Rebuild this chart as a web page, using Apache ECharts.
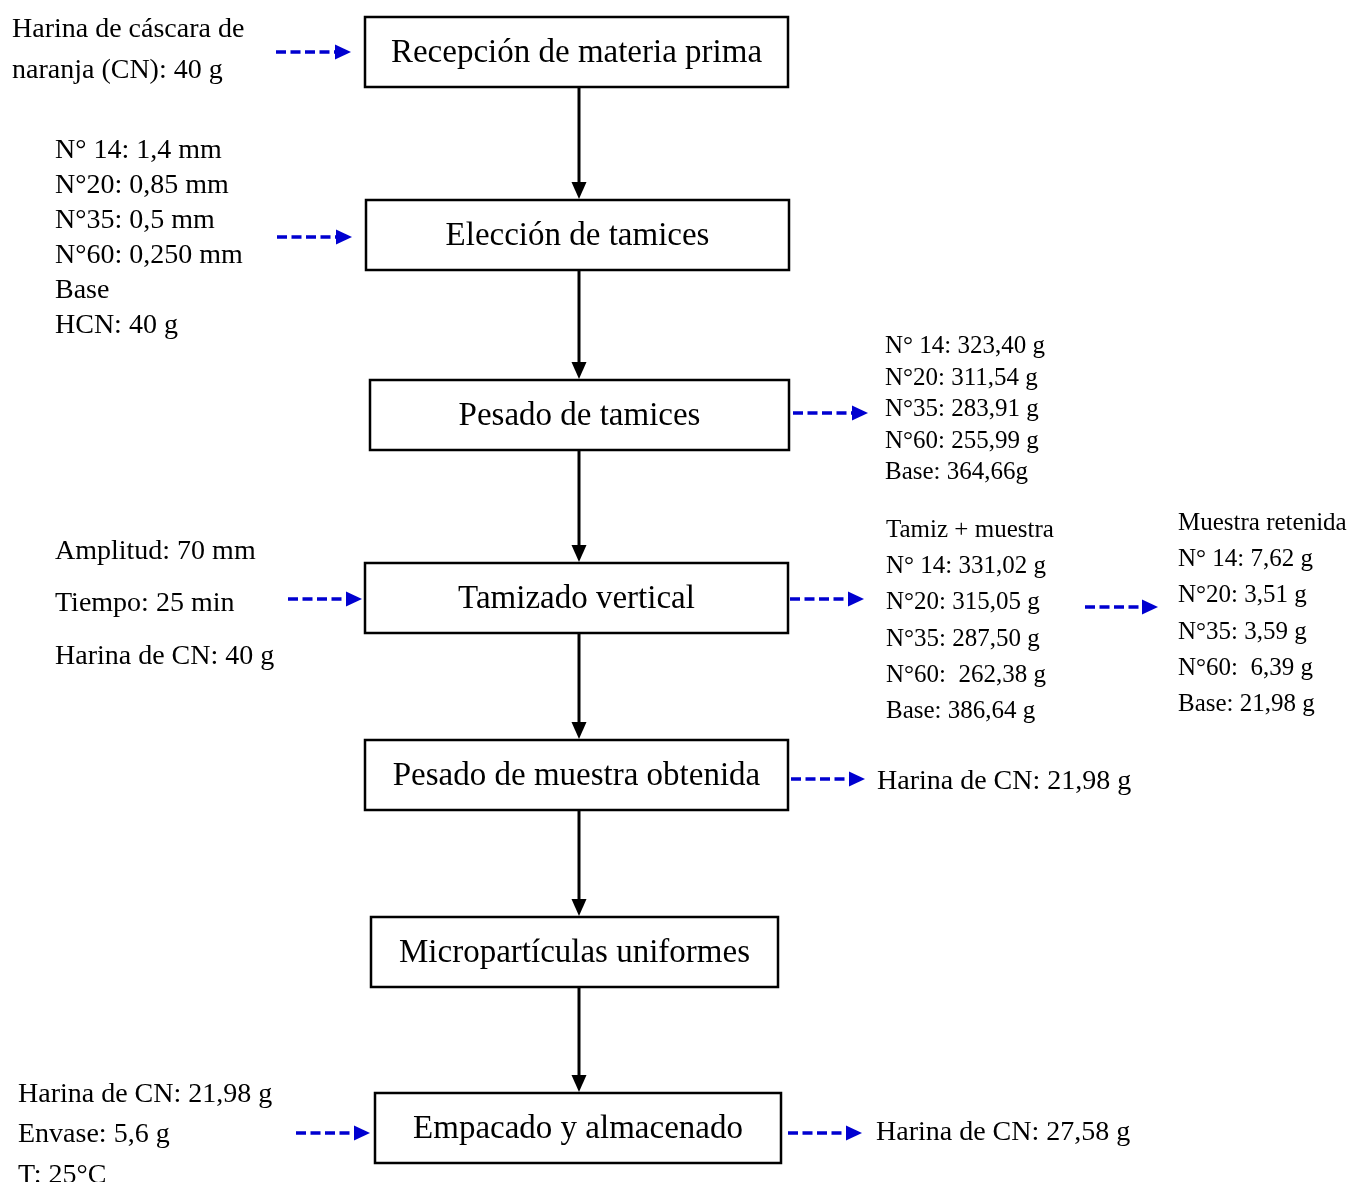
<!DOCTYPE html>
<html><head><meta charset="utf-8">
<script src="https://cdn.jsdelivr.net/npm/echarts@6/dist/echarts.min.js"></script>
<style>html,body{margin:0;padding:0;background:#fff}#c{width:1351px;height:1182px}</style>
</head><body><div id="c"></div>
<script>
// ---- content ----
const stepNames = ['Recepción de materia prima','Elección de tamices','Pesado de tamices','Tamizado vertical','Pesado de muestra obtenida','Micropartículas uniformes','Empacado y almacenado'];
const rawInput = ['Harina de cáscara de','naranja (CN): 40 g'];
const sieveSizes = ['N° 14: 1,4 mm','N°20: 0,85 mm','N°35: 0,5 mm','N°60: 0,250 mm','Base','HCN: 40 g'];
const sieveWeights = ['N° 14: 323,40 g','N°20: 311,54 g','N°35: 283,91 g','N°60: 255,99 g','Base: 364,66g'];
const sieveParams = ['Amplitud: 70 mm','Tiempo: 25 min','Harina de CN: 40 g'];
const sievePlusSample = ['Tamiz + muestra','N° 14: 331,02 g','N°20: 315,05 g','N°35: 287,50 g','N°60:  262,38 g','Base: 386,64 g'];
const retainedSample = ['Muestra retenida','N° 14: 7,62 g','N°20: 3,51 g','N°35: 3,59 g','N°60:  6,39 g','Base: 21,98 g'];
const obtainedSample = ['Harina de CN: 21,98 g'];
const packInput = ['Harina de CN: 21,98 g','Envase: 5,6 g','T: 25°C'];
const packOutput = ['Harina de CN: 27,58 g'];

// ---- layout (positions / styles) ----
const FONT = '"Liberation Serif","Times New Roman",serif';
const boxes = [
  [365,17,788,87],[366,200,789,270],[370,380,789,450],[365,563,788,633],
  [365,740,788,810],[371,917,778,987],[375,1093,781,1163]
];
const spineX = 579;
const TY = 2.5; // text vertical offset
const textBlocks = [
  {lines: rawInput, x: 12, y: 27, dy: 41, size: 28},
  {lines: sieveSizes, x: 55, y: 148, dy: 35, size: 28},
  {lines: sieveWeights, x: 885, y: 344, dy: 31.5, size: 25},
  {lines: sieveParams, x: 55, y: 549, dy: 52.5, size: 28},
  {lines: sievePlusSample, x: 886, y: 528, dy: 36.2, size: 25},
  {lines: retainedSample, x: 1178, y: 521, dy: 36.2, size: 25},
  {lines: obtainedSample, x: 877, y: 779, dy: 0, size: 28},
  {lines: packInput, x: 18, y: 1092, dy: 40.5, size: 28},
  {lines: packOutput, x: 876, y: 1130, dy: 0, size: 28}
];
const blueArrows = [
  [276,351,52],[277,352,237],[793,868,413],[288,362,599],[790,864,599],
  [1085,1158,607],[791,865,779],[296,370,1133],[788,862,1133]
];
const BLUE = '#0000d0';

const g = [];
boxes.forEach((b, i) => {
  g.push({type:'rect', shape:{x:b[0], y:b[1], width:b[2]-b[0], height:b[3]-b[1]},
    style:{fill:'#fff', stroke:'#000', lineWidth:2.5}});
  g.push({type:'text', x:(b[0]+b[2])/2, y:(b[1]+b[3])/2 - 1 + TY,
    style:{text:stepNames[i], fill:'#000', font:'33px '+FONT, textAlign:'center', textVerticalAlign:'middle'}});
  if (i < boxes.length - 1) {
    const y1 = b[3], y2 = boxes[i+1][1];
    g.push({type:'line', shape:{x1:spineX, y1:y1, x2:spineX, y2:y2-15}, style:{stroke:'#000', lineWidth:3}});
    g.push({type:'polygon', shape:{points:[[spineX-7.5,y2-18],[spineX+7.5,y2-18],[spineX,y2-1]]}, style:{fill:'#000'}});
  }
});
blueArrows.forEach(a => {
  const [x1,x2,y] = a;
  g.push({type:'line', shape:{x1:x1, y1:y, x2:x2-14, y2:y}, style:{stroke:BLUE, lineWidth:3.5, lineDash:[10,4.5]}});
  g.push({type:'polygon', shape:{points:[[x2-16,y-7.5],[x2-16,y+7.5],[x2,y]]}, style:{fill:BLUE}});
});
textBlocks.forEach(tb => {
  tb.lines.forEach((t, k) => {
    g.push({type:'text', x:tb.x, y:tb.y + k*tb.dy + TY,
      style:{text:t, fill:'#000', font:tb.size+'px '+FONT, textAlign:'left', textVerticalAlign:'middle'}});
  });
});

const chart = echarts.init(document.getElementById('c'));
chart.setOption({backgroundColor:'#fff', animation:false, graphic:{elements:g}});
</script></body></html>
